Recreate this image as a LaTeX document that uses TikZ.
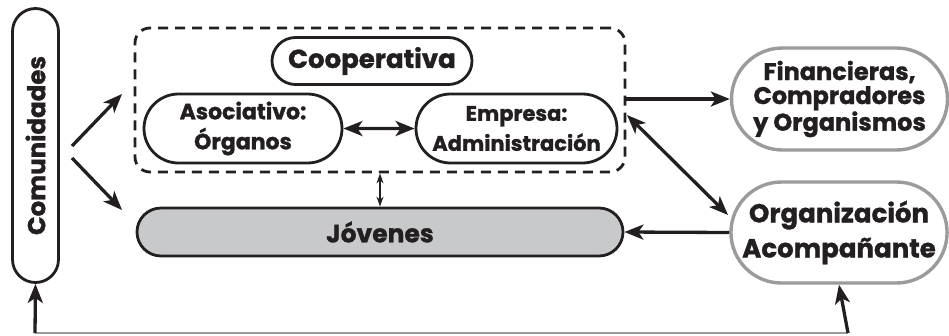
\documentclass[tikz,border=0pt]{standalone}
\usepackage{fontspec}
\setmainfont{Poppins}[BoldFeatures={FakeBold=1.2}]
\usetikzlibrary{shapes.misc, arrows.meta, positioning}
\definecolor{ink}{HTML}{231F20}
\definecolor{pale}{HTML}{9B9B9B}
\definecolor{shade}{HTML}{C8C9CB}
\tikzset{
    x=1pt, y=-1pt, % pixel-like coordinates
    every node/.style={text=ink, font=\bfseries, align=center, inner sep=0pt},
    pill/.style={rounded rectangle, draw=ink, line width=2.8pt, fill=white}, % black rounded boxes
    palepill/.style={rounded rectangle, draw=pale, line width=3.4pt, fill=white}, % gray rounded boxes
    link/.style={draw=ink, line width=3.3pt, -{Stealth[length=19pt, width=15pt, inset=5pt]}},
    twoway/.style={link, {Stealth[length=19pt, width=15pt, inset=5pt]}-{Stealth[length=19pt, width=15pt, inset=5pt]}},
    thinway/.style={draw=ink, line width=1.3pt, {Stealth[length=10pt, width=7pt]}-{Stealth[length=10pt, width=7pt]}},
    }

\begin{document}
\begin{tikzpicture}
    \useasboundingbox (0,0) rectangle (949,335);
    % cooperative frame and its parts
    \node[draw=ink, line width=2.8pt, dash pattern=on 10pt off 7pt, rounded corners=15pt,
          minimum width=490pt, minimum height=144pt] (frame) at (380,100) {};
    \node[pill, minimum width=200pt, minimum height=47pt, font=\bfseries\fontsize{26}{30}\selectfont] (coop) at (372,61) {Cooperativa};
    \node[pill, minimum width=198pt, minimum height=69pt, font=\bfseries\fontsize{22}{30}\selectfont] (aso) at (243,128.5) {Asociativo:\\Órganos};
    \node[pill, minimum width=201pt, minimum height=69pt, font=\bfseries\fontsize{21}{30}\selectfont] (emp) at (516.5,128.5) {Empresa:\\Administración};
    % other actors
    \node[pill, minimum width=274pt, minimum height=46pt, rotate=90, font=\bfseries\fontsize{24.5}{28}\selectfont] (com) at (35.5,145.5) {Comunidades};
    \node[pill, fill=shade, minimum width=486pt, minimum height=48pt, font=\bfseries\fontsize{25}{28}\selectfont] (jov) at (380,232) {Jóvenes};
    \node[palepill, minimum width=216pt, minimum height=102pt, font=\bfseries\fontsize{24}{24}\selectfont] (fin) at (839.5,99) {Financieras,\\Compradores\\y Organismos};
    \node[palepill, minimum width=216pt, minimum height=101pt, font=\bfseries\fontsize{26}{35}\selectfont] (org) at (839,232.5) {Organización\\Acompañante};
    % free ends
    \coordinate (c1) at (72,146);
    \coordinate (c2) at (72,158);
    \coordinate (f1) at (122,94);
    \coordinate (j1) at (122,210);
    \coordinate (e1) at (627,115);
    \coordinate (o1) at (728,215);
    \coordinate (bl) at (35,333);
    \coordinate (br) at (848,333);
    % connectors
    \draw[link] (c1) -- (f1);
    \draw[link] (c2) -- (j1);
    \draw[twoway] (aso) -- (emp);
    \draw[thinway] (frame.south) -- (jov.north);
    \draw[link] (frame.east |- fin.west) -- (fin.west);
    \draw[twoway] (e1) -- (o1);
    \draw[link] (org.west) -- (jov.east);
    \draw[draw=pale, line width=1.4pt] (bl) -- (br);
    \draw[link] (bl) -- (com.west);
    \draw[link] (br) -- (org.south);
\end{tikzpicture}
\end{document}
